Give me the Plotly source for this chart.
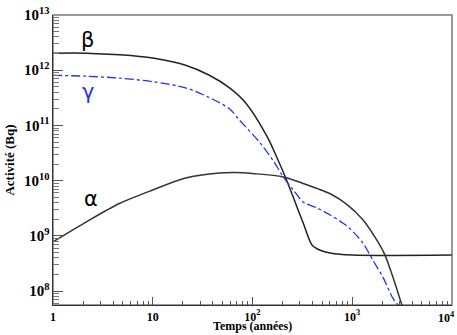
import math
import plotly.graph_objects as go

# --- data ---
beta_t = [1, 2.14, 4.68, 10, 21.4, 37, 59, 85, 141, 182, 214, 257, 324, 398, 479, 603, 1000, 10000]
beta_a = [2.04e12, 2.04e12, 1.9e12, 1.66e12, 1.23e12, 8.1e11, 4.8e11, 2.6e11, 6.2e10, 2.3e10,
          1.17e10, 5.0e9, 1.7e9, 6.8e8, 5.5e8, 4.9e8, 4.5e8, 4.5e8]

gamma_t = [1, 2.14, 4.68, 10, 21.4, 37, 59, 74, 120, 162, 204, 257, 324, 447, 603, 813, 955,
           1288, 1622, 2042, 2570, 2884, 3981]
gamma_a = [8.1e11, 7.8e11, 7.2e11, 6.2e11, 4.8e11, 3.2e11, 2.0e11, 1.26e11, 4.8e10, 2.3e10,
           1.17e10, 6.8e9, 4.1e9, 3.2e9, 2.4e9, 1.7e9, 1.35e9, 7.4e8, 3.6e8, 1.78e8, 7.4e7,
           5.6e7, 2.0e7]

alpha_t = [1, 2.14, 4.68, 10, 21.4, 46.8, 67.6, 100, 204, 447, 603, 891, 1288, 1778, 2138,
           2570, 3162, 3981]
alpha_a = [7.8e8, 1.78e9, 3.9e9, 6.8e9, 1.12e10, 1.38e10, 1.41e10, 1.35e10, 1.17e10,
           7.2e9, 5.8e9, 3.7e9, 1.95e9, 8.3e8, 4.5e8, 1.78e8, 5.6e7, 1.6e7]

labels = ["β", "γ", "α"]
label_t = [2.24, 2.25, 2.4]
label_a = [3.5e12, 4.0e11, 4.6e9]
label_colors = ["black", "#2233ee", "black"]

x_ticks = [1, 10, 100, 1000, 10000]
x_ticktext = ["1", "10", "10<sup>2</sup>", "10<sup>3</sup>", ""]
last_x_label = "10<sup>4</sup>"

fig = go.Figure()
fig.add_trace(go.Scatter(x=beta_t, y=beta_a, mode="lines",
                         line=dict(color="#222", width=1.5, shape="spline", smoothing=0.8)))
fig.add_trace(go.Scatter(x=gamma_t, y=gamma_a, mode="lines",
                         line=dict(color="#2233ee", width=1.3, dash="dashdot", shape="spline", smoothing=0.8)))
fig.add_trace(go.Scatter(x=alpha_t, y=alpha_a, mode="lines",
                         line=dict(color="#333", width=1.5, shape="spline", smoothing=0.8)))

for lab, t, a, c in zip(labels, label_t, label_a, label_colors):
    fig.add_annotation(x=math.log10(t), y=math.log10(a), xref="x", yref="y", text=lab,
                       showarrow=False, font=dict(family="DejaVu Sans", size=21, color=c))

tickfont = dict(family="Liberation Serif", size=12, color="black", weight="bold")

fig.add_annotation(x=1.0, y=-0.012, xref="paper", yref="paper", xanchor="right", yanchor="top",
                   xshift=5, text=last_x_label, showarrow=False, font=tickfont)

fig.add_annotation(x=0.5, y=-0.072, xref="paper", yref="paper", yanchor="middle",
                   text="<b>Temps (années)</b>", showarrow=False,
                   font=dict(family="Liberation Serif", size=12, color="black"))

fig.update_layout(
    width=457, height=335,
    margin=dict(l=53, r=5, t=15, b=30),
    paper_bgcolor="white", plot_bgcolor="white",
    showlegend=False,
    xaxis=dict(type="log", range=[0, 4.002], tickmode="array",
               tickvals=x_ticks, ticktext=x_ticktext,
               showgrid=False, zeroline=False, automargin=False,
               showline=True, linecolor="#333", linewidth=1.2,
               ticks="inside", ticklen=8, tickcolor="#555",
               minor=dict(ticks="inside", ticklen=4, tickcolor="#555", showgrid=False, dtick="D1"),
               tickfont=tickfont),
    yaxis=dict(type="log", range=[7.75, 13], dtick=1, exponentformat="power",
               ticklabeloverflow="allow",
               showgrid=False, zeroline=False, automargin=False,
               showline=True, linecolor="#333", linewidth=1.2,
               ticks="inside", ticklen=10, tickcolor="#555",
               minor=dict(ticks="inside", ticklen=6, tickcolor="#777", showgrid=False),
               tickfont=tickfont,
               title=dict(text="<b>Activité (Bq)</b>", standoff=6,
                          font=dict(family="Liberation Serif", size=13, color="black"))),
)
fig.add_shape(type="rect", xref="paper", yref="paper", x0=0, y0=0, x1=1, y1=1,
              line=dict(color="#999", width=2), layer="below")

fig.write_html("out.html")
